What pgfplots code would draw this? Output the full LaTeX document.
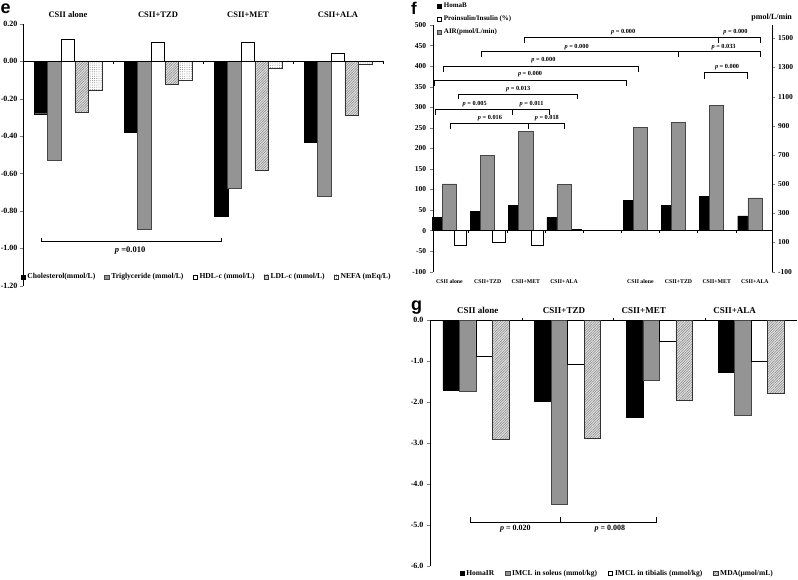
\documentclass[border=0pt]{standalone}
\usepackage{fontspec}
\setmainfont{Liberation Serif}
\setsansfont{Liberation Sans}
\usepackage{pgfplots}
\pgfplotsset{compat=1.18}
\usetikzlibrary{patterns,patterns.meta}
\definecolor{bargrey}{RGB}{148,148,148}
\definecolor{bargreyedge}{RGB}{70,70,70}
\newcommand{\fs}[1]{\fontsize{#1}{#1}\selectfont}
\newcommand{\pp}{\textbf{\textit{p}}}
\pgfplotsset{
  panel/.style={
    scale only axis, anchor=south west, clip=false,
    /pgf/number format/assume math mode=true,
    /pgf/number format/1000 sep={},
    tick label style={font=\bfseries\fs{8}},
    tick align=outside, major tick length=3pt,
    ybar, legend cell align=left,
  },
  sqlegend/.style={legend image code/.code={\draw[##1] (0pt,-2.2pt) rectangle (4.4pt,2.2pt);}},
  blackbar/.style={fill=black, draw=black, line width=0.4pt, sqlegend},
  greybar/.style={fill=bargrey, draw=bargreyedge, line width=0.6pt, sqlegend},
  whitebar/.style={fill=white, draw=black, line width=0.6pt, sqlegend},
  hatchbar/.style={fill=gray!25, draw=black!80, line width=0.5pt, postaction={pattern={Lines[angle=45,distance=1.8pt,line width=0.5pt]}, pattern color=gray!95}, sqlegend},
  dotbar/.style={fill=white, draw=black!80, line width=0.5pt, postaction={pattern={Dots[distance=2.2pt,radius=0.5pt]}, pattern color=gray!95}, sqlegend},
}
\begin{document}
\begin{tikzpicture}[x=1pt,y=1pt]
\useasboundingbox (0,0) rectangle (798,580);
% panel letters
\node[anchor=base west, inner sep=0, font=\sffamily\bfseries\fs{18}] at (0.5pt,566.5pt) {e};
\node[anchor=base west, inner sep=0, font=\sffamily\bfseries\fs{17}] at (411pt,565pt) {f};
\node[anchor=base west, inner sep=0, font=\sffamily\bfseries\fs{18}] at (411pt,269pt) {g};

% ---------------- panel e ----------------
\begin{axis}[panel, at={(23pt,294.3pt)}, width=360pt, height=261.7pt,
  xmin=-0.5, xmax=3.5, ymin=-1.2, ymax=0.2,
  axis y line*=left, axis x line*=top, x axis line style={draw=none},
  xtick={0,1,2,3}, xticklabels={CSII alone, CSII+TZD, CSII+MET, CSII+ALA},
  xtick style={draw=none},
  xticklabel style={anchor=center, yshift=6pt, font=\bfseries\fs{8.5}},
  ytick={-1.2,-1,-0.8,-0.6,-0.4,-0.2,0,0.2},
  yticklabels={-1.20,-1.00,-0.80,-0.60,-0.40,-0.20,0.00,0.20},
  yticklabel style={xshift=1pt},
  legend columns=5,
  legend style={at={(0.51,0.033)}, anchor=center, draw=none, fill=none, font=\bfseries\fs{7.6},
    /tikz/every even column/.append style={column sep=7pt}, inner sep=0pt},
]
\addplot[blackbar, bar width=0.15, bar shift=-0.3] coordinates {(0,-0.28) (1,-0.38) (2,-0.83) (3,-0.43)};
\addlegendentry{Cholesterol(mmol/L)}
\addplot[greybar, bar width=0.15, bar shift=-0.15] coordinates {(0,-0.53) (1,-0.90) (2,-0.68) (3,-0.72)};
\addlegendentry{Triglyceride (mmol/L)}
\addplot[whitebar, bar width=0.15, bar shift=0] coordinates {(0,0.12) (1,0.10) (2,0.10) (3,0.045)};
\addlegendentry{HDL-c (mmol/L)}
\addplot[hatchbar, bar width=0.15, bar shift=0.15] coordinates {(0,-0.27) (1,-0.12) (2,-0.58) (3,-0.29)};
\addlegendentry{LDL-c (mmol/L)}
\addplot[dotbar, bar width=0.15, bar shift=0.3] coordinates {(0,-0.155) (1,-0.10) (2,-0.036) (3,-0.017)};
\addlegendentry{NEFA (mEq/L)}
\draw[line width=0.6pt] (axis cs:-0.5,0) -- (axis cs:3.5,0);
\pgfplotsinvokeforeach{0.5,1.5,2.5,3.5}{\draw[line width=0.5pt] (axis cs:#1,0) -- ++(0pt,-2.5pt);}
\draw[line width=0.7pt] (axis cs:-0.3,-0.947) -- (axis cs:-0.3,-0.965) -- (axis cs:1.7,-0.965) -- (axis cs:1.7,-0.947);
\node[font=\bfseries\fs{8.5}] at (axis cs:0.69,-1.012) {\pp{} =0.010};
\end{axis}

% ---------------- panel f ----------------
\begin{axis}[panel, at={(432.7pt,308.3pt)}, width=339pt, height=246.7pt,
  xmin=-0.44, xmax=8.44, ymin=-100, ymax=500,
  axis y line*=left, axis x line*=bottom, x axis line style={draw=none},
  xtick={0,1,2,3,5,6,7,8},
  xticklabels={CSII alone, CSII+TZD, CSII+MET, CSII+ALA, CSII alone, CSII+TZD, CSII+MET, CSII+ALA},
  xtick style={draw=none},
  tick label style={font=\bfseries\fs{7.5}},
  xticklabel style={anchor=center, yshift=-7.3pt, font=\bfseries\fs{5.8}},
  ytick={-100,-50,...,500},
  legend style={at={(0.012,1.097)}, anchor=north west, draw=none, fill=none, font=\bfseries\fs{7},
    row sep=2.6pt, inner sep=0pt},
]
\addplot[blackbar, bar width=0.26, bar shift=-0.32] coordinates {(0,31.4) (1,46) (2,60.6) (3,32.3) (5,73.7) (6,61.5) (7,83.4) (8,35.5)};
\addlegendentry{HomaB}
\addplot[whitebar, bar width=0.32, bar shift=0.29] coordinates {(0,-36.7) (1,-29.4) (2,-36.7) (3,3)};
\addlegendentry{Proinsulin/Insulin (\%)}
\addplot[greybar, bar width=0.37, bar shift=0] coordinates {(0,113.3) (1,183) (2,240.5) (3,111.7) (5,250.2) (6,264) (7,304.7) (8,79.3)};
\addlegendentry{AIR(pmol/L/min)}
\draw[line width=0.6pt] (axis cs:-0.44,0) -- (axis cs:8.44,0);
\pgfplotsinvokeforeach{0.5,1.5,2.5,3.5,4.5,5.5,6.5,7.5}{\draw[line width=0.4pt] (axis cs:#1,0) -- ++(0pt,-2.5pt);}
% significance brackets
\begin{scope}[line width=0.6pt]
\draw (axis cs:1.96,457) -- (axis cs:1.96,470.8) -- (axis cs:8.15,470.8) -- (axis cs:8.15,457);
\draw (axis cs:7.03,470.8) -- (axis cs:7.03,457);
\draw (axis cs:0.84,421.5) -- (axis cs:0.84,436) -- (axis cs:8.15,436) -- (axis cs:8.15,421.5);
\draw (axis cs:6.0,436) -- (axis cs:6.0,421.5);
\draw (axis cs:-0.15,385.7) -- (axis cs:-0.15,400.3) -- (axis cs:4.95,400.3) -- (axis cs:4.95,385.7);
\draw (axis cs:-0.40,351.6) -- (axis cs:-0.40,366.2) -- (axis cs:4.64,366.2) -- (axis cs:4.64,351.6);
\draw (axis cs:6.68,369.4) -- (axis cs:6.68,384) -- (axis cs:7.81,384) -- (axis cs:7.81,369.4);
\draw (axis cs:0.23,320) -- (axis cs:0.23,332.2) -- (axis cs:3.34,332.2) -- (axis cs:3.34,320);
\draw (axis cs:-0.36,281.1) -- (axis cs:-0.36,295.7) -- (axis cs:2.61,295.7) -- (axis cs:2.61,281.1);
\draw (axis cs:1.65,295.7) -- (axis cs:1.65,281.1);
\draw (axis cs:0.03,246.4) -- (axis cs:0.03,261) -- (axis cs:3.01,261) -- (axis cs:3.01,246.4);
\draw (axis cs:2.07,261) -- (axis cs:2.07,246.4);
\end{scope}
\begin{scope}[every node/.style={font=\bfseries\fs{6.3}}]
\node at (axis cs:4.55,483.7) {\pp{} = 0.000};
\node at (axis cs:7.49,483.7) {\pp{} = 0.000};
\node at (axis cs:3.33,447) {\pp{} = 0.000};
\node at (axis cs:7.18,447) {\pp{} = 0.033};
\node at (axis cs:2.46,415) {\pp{} = 0.000};
\node at (axis cs:2.11,380.8) {\pp{} = 0.000};
\node at (axis cs:7.27,398.6) {\pp{} = 0.000};
\node at (axis cs:1.80,344.4) {\pp{} = 0.013};
\node at (axis cs:0.66,308.6) {\pp{} = 0.005};
\node at (axis cs:2.15,308.6) {\pp{} = 0.011};
\node at (axis cs:1.06,273.8) {\pp{} = 0.016};
\node at (axis cs:2.55,273.8) {\pp{} = 0.018};
\end{scope}
\end{axis}
\begin{axis}[panel, at={(432.7pt,308.3pt)}, width=339pt, height=246.7pt,
  xmin=-0.44, xmax=8.44, ymin=-100, ymax=1591,
  axis y line*=right, axis x line=none,
  tick label style={font=\bfseries\fs{7.5}},
  ytick={-100,100,...,1500},
]
\node[font=\bfseries\fs{8}, anchor=south] at (rel axis cs:1,1) {pmol/L/min};
\end{axis}

% ---------------- panel g ----------------
\begin{axis}[panel, at={(430pt,14.3pt)}, width=367pt, height=245.5pt,
  xmin=-0.5, xmax=3.5, ymin=-6, ymax=0,
  axis y line*=left, axis x line*=top,
  xtick={0.02,0.96,1.83,2.82}, xticklabels={CSII alone, CSII+TZD, CSII+MET, CSII+ALA},
  xtick style={draw=none},
  xticklabel style={anchor=center, yshift=6.7pt, font=\bfseries\fs{9}},
  ytick={-6,-5,-4,-3,-2,-1,0},
  yticklabels={-6.0,-5.0,-4.0,-3.0,-2.0,-1.0,0.0},
  legend columns=4,
  legend style={at={(0.51,-0.031)}, anchor=center, draw=none, fill=none, font=\bfseries\fs{7.5},
    /tikz/every even column/.append style={column sep=9pt}, inner sep=0pt},
]
\addplot[blackbar, bar width=0.18, bar shift=-0.27] coordinates {(0,-1.71) (1,-1.98) (2,-2.38) (3,-1.26)};
\addlegendentry{HomaIR}
\addplot[greybar, bar width=0.18, bar shift=-0.09] coordinates {(0,-1.74) (1,-4.50) (2,-1.47) (3,-2.32)};
\addlegendentry{IMCL in soleus (mmol/kg)}
\addplot[whitebar, bar width=0.18, bar shift=0.09] coordinates {(0,-0.88) (1,-1.08) (2,-0.51) (3,-1.00)};
\addlegendentry{IMCL in tibialis (mmol/kg)}
\addplot[hatchbar, bar width=0.18, bar shift=0.27] coordinates {(0,-2.91) (1,-2.89) (2,-1.96) (3,-1.78)};
\addlegendentry{MDA(μmol/mL)}
\pgfplotsinvokeforeach{0.5,1.5,2.5}{\draw[line width=0.5pt] (axis cs:#1,0) -- ++(0pt,2.5pt);}
\draw[line width=0.7pt] (axis cs:-0.064,-4.81) -- (axis cs:-0.064,-4.95) -- (axis cs:1.97,-4.95) -- (axis cs:1.97,-4.81);
\draw[line width=0.7pt] (axis cs:0.925,-4.95) -- (axis cs:0.925,-4.81);
\node[font=\bfseries\fs{8}] at (axis cs:0.43,-5.09) {\pp{} = 0.020};
\node[font=\bfseries\fs{8}] at (axis cs:1.46,-5.09) {\pp{} = 0.008};
\end{axis}
\end{tikzpicture}
\end{document}
